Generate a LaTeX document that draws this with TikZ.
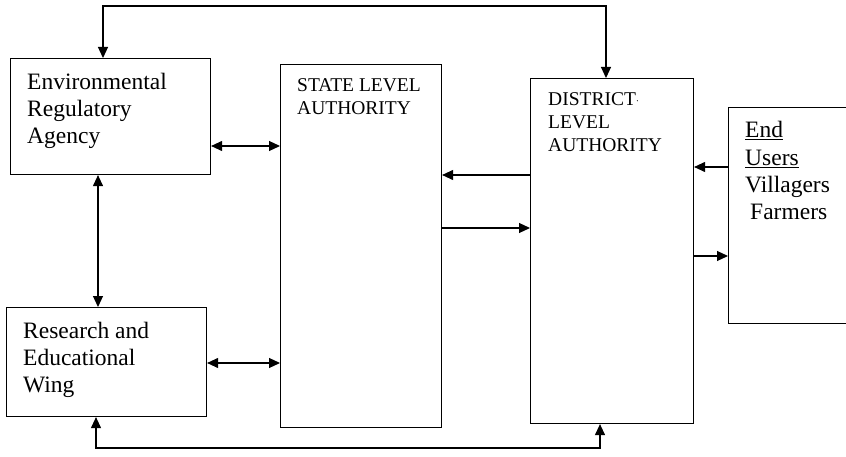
\documentclass[tikz,border=0pt]{standalone}
\usepackage{fontspec}
\setmainfont{Liberation Serif}
\usetikzlibrary{arrows.meta}
\begin{document}
\begin{tikzpicture}[x=1pt,y=-1pt,
  box/.style={draw, line width=1.1pt, inner sep=0pt, anchor=north west},
  txt/.style={anchor=base west, inner sep=0pt, font=\fontsize{23.5}{27}\selectfont},
  captxt/.style={anchor=base west, inner sep=0pt, font=\fontsize{19.5}{23}\selectfont},
  conn/.style={line width=1.1pt, -{Triangle[length=11pt,width=10pt]}},
  dbl/.style={line width=1.1pt, {Triangle[length=11pt,width=10pt]}-{Triangle[length=11pt,width=10pt]}}]
\useasboundingbox (0,0) rectangle (846,457);
% boxes
\node[box, minimum width=200pt, minimum height=116pt] (env) at (10,58) {};
\node[box, minimum width=200pt, minimum height=109pt] (res) at (6,307) {};
\node[box, minimum width=161pt, minimum height=363pt] (state) at (280,64) {};
\node[box, minimum width=163pt, minimum height=345pt] (dist) at (530,78) {};
\node[box, minimum width=140pt, minimum height=216pt] (end) at (728,107) {};
% texts
\node[txt] (e1) at (27,90) {Environmental};
\node[txt] (e2) at (27,117) {Regulatory};
\node[txt] (e3) at (27,144) {Agency};
\node[txt] (r1) at (23,338) {Research and};
\node[txt] (r2) at (23,365) {Educational};
\node[txt] (r3) at (23,392) {Wing};
\node[captxt] (s1) at (297,92) {STATE LEVEL};
\node[captxt] (s2) at (297,115) {AUTHORITY};
\node[captxt] (d1) at (548,106) {DISTRICT\raisebox{0.2ex}{\fontsize{10}{10}\selectfont ·}};
\node[captxt] (d2) at (548,129) {LEVEL};
\node[captxt] (d3) at (548,152) {AUTHORITY};
\node[txt] (u1) at (745,138) {\underline{End}};
\node[txt] (u2) at (745,166) {\underline{Users}};
\node[txt] (u3) at (745,193) {Villagers};
\node[txt] (u4) at (750,220) {Farmers};
% connectors
\draw[dbl] (env.east |- 0,146) -- (state.west |- 0,146);
\draw[dbl] (res.east |- 0,363) -- (state.west |- 0,363);
\draw[dbl] (env.south -| 98,0) -- (res.north -| 98,0);
\draw[conn] (dist.west |- 0,175) -- (state.east |- 0,175);
\draw[conn] (state.east |- 0,228) -- (dist.west |- 0,228);
\draw[conn] (end.west |- 0,167) -- (dist.east |- 0,167);
\draw[conn] (dist.east |- 0,256) -- (end.west |- 0,256);
\draw[dbl] (env.north -| 103,0) -- (103,6) -- (606,6) -- (dist.north -| 606,0);
\draw[dbl] (res.south -| 96,0) -- (96,448) -- (600,448) -- (dist.south -| 600,0);
\end{tikzpicture}
\end{document}
